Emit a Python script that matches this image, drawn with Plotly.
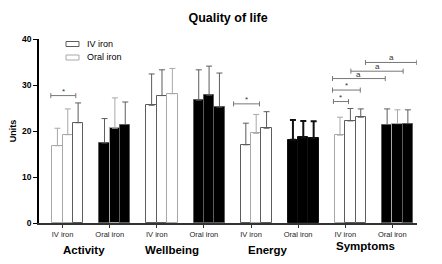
import plotly.graph_objects as go

# ---------------- data ----------------
domains = ["Activity", "Wellbeing", "Energy", "Symptoms"]
treatments = ["IV iron", "Oral iron"]

activity_iv = [16.8, 19.2, 21.8]
activity_iv_sd = [3.8, 5.6, 4.3]
activity_oral = [17.4, 20.6, 21.4]
activity_oral_sd = [5.3, 6.6, 4.9]

wellbeing_iv = [25.6, 27.7, 28.1]
wellbeing_iv_sd = [6.8, 5.6, 5.5]
wellbeing_oral = [26.7, 27.8, 25.2]
wellbeing_oral_sd = [6.6, 6.3, 7.4]

energy_iv = [17.0, 19.5, 20.6]
energy_iv_sd = [4.7, 4.1, 3.6]
energy_oral = [18.1, 18.6, 18.4]
energy_oral_sd = [4.3, 3.6, 3.7]

symptoms_iv = [19.1, 22.2, 23.0]
symptoms_iv_sd = [3.9, 2.7, 1.8]
symptoms_oral = [21.4, 21.6, 21.6]
symptoms_oral_sd = [3.4, 3.0, 3.0]

y_ticks = [0, 10, 20, 30, 40]

# significance brackets: (start group, start bar, end group, end bar, level, label)
brackets = [
    (0, 0, 0, 1, 27.7, "*"),
    (4, 0, 4, 1, 25.9, "*"),
    (6, 0, 6, 1, 26.4, "*"),
    (6, 0, 6, 2, 28.9, "*"),
    (6, 0, 7, 0, 31.4, "a"),
    (6, 1, 7, 1, 33.0, "a"),
    (6, 2, 7, 2, 34.9, "a"),
]
# ---------------- styling ----------------
W = 0.22  # bar width in group units
L, D, K = "#a8a8a8", "#5c5c5c", "#111111"
edge_colors = [
    [L, L, D], [D, L, D],
    [D, D, L], [D, D, D],
    [D, L, D], [K, K, K],
    [L, D, D], [D, L, D],
]
bracket_offsets = [
    (-0.14, 0.17), (-0.26, 0.07), (-0.14, -0.04), (-0.16, -0.01),
    (-0.16, -0.04), (0.01, 0.12), (0.10, 0.19),
]
domain_label_shift = [-0.05, -0.17, -0.14, -0.06]
domain_label_y = [-0.147, -0.147, -0.147, -0.125]

groups_vals = [activity_iv, activity_oral, wellbeing_iv, wellbeing_oral,
               energy_iv, energy_oral, symptoms_iv, symptoms_oral]
groups_sd = [activity_iv_sd, activity_oral_sd, wellbeing_iv_sd, wellbeing_oral_sd,
             energy_iv_sd, energy_oral_sd, symptoms_iv_sd, symptoms_oral_sd]


def pos(g, b):
    return g + (b - 1) * W


fig = go.Figure()
for g, (vals, sds) in enumerate(zip(groups_vals, groups_sd)):
    oral = g % 2 == 1
    for b in range(3):
        col = edge_colors[g][b]
        fig.add_trace(go.Bar(
            x=[pos(g, b)], y=[vals[b]], width=W,
            marker=dict(color="black" if oral else "white",
                        line=dict(color=col, width=1)),
            error_y=dict(type="data", symmetric=False, array=[sds[b]], arrayminus=[0],
                         color=col, thickness=2 if col == K else 1, width=3),
            showlegend=False, hoverinfo="skip",
        ))

shapes = []
annotations = []
for (g0, b0, g1, b1, lvl, lab), (d0, d1) in zip(brackets, bracket_offsets):
    x0 = pos(g0, b0) + d0
    x1 = min(pos(g1, b1) + d1, 7.41)
    shapes.append(dict(type="path", xref="x", yref="y",
                       path=f"M{x0},{lvl-0.55} L{x0},{lvl+0.55} M{x0},{lvl} L{x1},{lvl} M{x1},{lvl-0.55} L{x1},{lvl+0.55}",
                       line=dict(color="#777777", width=1)))
    annotations.append(dict(x=(x0 + x1) / 2, y=lvl, xref="x", yref="y", text=lab,
                            showarrow=False, yanchor="bottom", yshift=-2,
                            font=dict(size=8, color="#333333", family="Liberation Sans, Arial")))

# domain labels
for i, d in enumerate(domains):
    xg = 2 * i + 0.5 - W / 2 + domain_label_shift[i]
    annotations.append(dict(x=xg, y=domain_label_y[i], xref="x", yref="paper",
                            text=f"<b>{d}</b>", showarrow=False, yanchor="middle",
                            font=dict(size=11.5, color="black", family="Liberation Sans, Arial")))

# legend (manual)
pw, ph = 378, 184
for j, (t, c) in enumerate(zip(treatments, [D, L])):
    ytop = 41.5 + j * 13.5
    shapes.append(dict(type="rect", xref="paper", yref="paper",
                       x0=(66 - 39) / pw, x1=(79 - 39) / pw,
                       y0=(223 - ytop) / ph, y1=(223 - ytop - 5) / ph,
                       fillcolor="white", line=dict(color=c, width=1)))
    annotations.append(dict(x=(85 - 39) / pw, y=(223 - ytop - 2.5) / ph, xref="paper", yref="paper",
                            text=t, showarrow=False, xanchor="left", yanchor="middle",
                            font=dict(size=9, color="black", family="Liberation Sans, Arial")))

tickvals = [g - W / 2 for g in range(8)]
ticktext = [treatments[g % 2] for g in range(8)]

fig.update_layout(
    width=442, height=264,
    margin=dict(l=39, r=25, t=39, b=41, autoexpand=False),
    plot_bgcolor="white", paper_bgcolor="white",
    barmode="overlay", bargap=0,
    title=dict(text="<b>Quality of life</b>", x=0.5, xref="paper", y=1 - 17.7 / 264,
               yanchor="middle", xanchor="center",
               font=dict(size=12.5, color="black", family="Liberation Sans, Arial")),
    xaxis=dict(range=[-0.611, 7.414], tickvals=tickvals, ticktext=ticktext, automargin=False,
               showgrid=False, zeroline=False, showline=True, linecolor="#333333", linewidth=1.5,
               ticks="outside", ticklen=3, tickcolor="#333333",
               tickfont=dict(size=7.5, color="#222222", family="Liberation Sans, Arial")),
    yaxis=dict(range=[0, 40], tickvals=y_ticks, showgrid=False, zeroline=False, automargin=False,
               showline=True, linecolor="black", linewidth=1.5,
               ticks="outside", ticklen=4, tickcolor="black",
               tickfont=dict(size=8.5, color="black", family="Liberation Sans, Arial", weight="bold"),
               title=dict(text="<b>Units</b>", standoff=4,
                          font=dict(size=9, color="black", family="Liberation Sans, Arial"))),
    shapes=shapes, annotations=annotations,
)

fig.write_html("out.html", config={"displayModeBar": False},
               post_script="document.body.style.margin='0';document.body.style.overflow='hidden';")
